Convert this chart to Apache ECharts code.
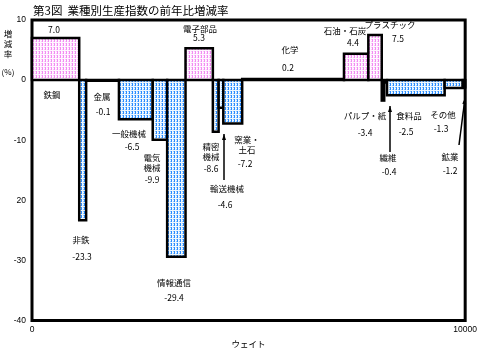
<!DOCTYPE html>
<html><head><meta charset="utf-8">
<script src="https://cdn.jsdelivr.net/npm/echarts@6/dist/echarts.min.js"></script>
<style>html,body{margin:0;padding:0;background:#fff}#c{width:480px;height:353px}</style>
</head><body><div id="c"></div>
<script>
const categories = ['鉄鋼','非鉄','金属','一般機械','電気機械','情報通信','電子部品','精密機械','輸送機械','窯業・土石','化学','石油・石炭','プラスチック','パルプ・紙','繊維','食料品','その他','鉱業'];
const nameLabels = ['鉄鋼','非鉄','金属','一般機械','電気\n機械','情報通信','電子部品','精密\n機械','輸送機械','窯業・\n土石','化学','石油・石炭','プラスチック','パルプ・紙','繊維','食料品','その他','鉱業'];
const weights = [1090,160,757,780,333,424,631,133,108,436,2350,562,310,57,64,1331,418,56];
const growth = [7.0,-23.3,-0.1,-6.5,-9.9,-29.4,5.3,-8.6,-4.6,-7.2,0.2,4.4,7.5,-3.4,-0.4,-2.5,-1.3,-1.2];
const yTickLabels = ['-40','-30','20','-10','0','10'];
const xTickLabels = ['0','10000'];

// label positions (pixel centres) – layout only
const namePos = [[52,95],[81,240],[102,97],[129,134],[152,163],[174,283],[200,29],[211,152],[227,189],[247,145],[290,50],[345,31],[390,25],[365,116],[388,158],[409,116],[443,115],[450,157]];
const valPos  = [[54,30],[82,257],[103,112],[132,147],[152,180],[174,298],[199,38],[211,169],[225,205],[245,164],[288,68],[353,43],[398,39],[365,133],[389,172],[406,132],[441,129],[450,171]];

function makePattern(bg, dark, mid){
  const c=document.createElement('canvas'); c.width=3; c.height=4;
  const g=c.getContext('2d');
  g.fillStyle=bg; g.fillRect(0,0,3,4);
  g.fillStyle=dark; g.fillRect(0,0,1,2); g.fillRect(0,3,1,1);
  g.fillStyle=mid; g.fillRect(2,1,1,1); g.fillRect(2,3,1,1);
  return {image:c, repeat:'repeat'};
}
const pinkPat = makePattern('#fff6ff','#f28cf2','#fac8fa');
const bluePat = makePattern('#eef7ff','#2a8cff','#8cc6ff');

const barData = [];
let acc = 0;
for (let i=0;i<weights.length;i++){ barData.push([acc, acc+weights[i], growth[i]]); acc += weights[i]; }

const chart = echarts.init(document.getElementById('c'), null, {renderer:'canvas'});
const graphics = [];
const font = '"Noto Sans CJK JP", sans-serif';
for (let i=0;i<categories.length;i++){
  graphics.push({type:'text', x:namePos[i][0], y:namePos[i][1], style:{text:nameLabels[i], fill:'#000', font:'8.5px '+font, align:'center', verticalAlign:'middle', lineHeight:10}});
  graphics.push({type:'text', x:valPos[i][0], y:valPos[i][1], style:{text:growth[i].toFixed(1), fill:'#000', font:'8.5px '+font, align:'center', verticalAlign:'middle'}});
}
// leader arrows
const arrows = [[224,180,224,134],[390,152,390,106],[459,145,465,98]];
arrows.forEach(a=>{
  graphics.push({type:'line', shape:{x1:a[0],y1:a[1],x2:a[2],y2:a[3]}, style:{stroke:'#000', lineWidth:1.5}});
  const dx=a[2]-a[0], dy=a[3]-a[1], L=Math.hypot(dx,dy), ux=dx/L, uy=dy/L;
  graphics.push({type:'polygon', shape:{points:[[a[2],a[3]],[a[2]-ux*6-uy*2,a[3]-uy*6+ux*2],[a[2]-ux*6+uy*2,a[3]-uy*6-ux*2]]}, style:{fill:'#000'}});
});
// y axis title
graphics.push({type:'text', x:8, y:44, style:{text:'増\n減\n率', fill:'#000', font:'8.5px '+font, align:'center', verticalAlign:'middle', lineHeight:10}});
graphics.push({type:'text', x:8, y:72, style:{text:'(%)', fill:'#000', font:'8px '+font, align:'center', verticalAlign:'middle'}});

chart.setOption({
  animation:false,
  title:{text:'第3図  業種別生産指数の前年比増減率', left:28, top:0, textStyle:{fontSize:11.5, fontWeight:'normal', color:'#000', fontFamily:'Noto Sans CJK JP'}},
  grid:{left:32, right:12, top:20, bottom:22, show:true, borderColor:'#000', borderWidth:3},
  xAxis:{type:'value', min:0, max:10000, interval:10000,
    name:'ウェイト', nameLocation:'middle', nameGap:13, nameTextStyle:{fontSize:8.5, color:'#000', fontFamily:'Noto Sans CJK JP'},
    axisLine:{show:false}, axisTick:{show:false}, splitLine:{show:false},
    axisLabel:{fontSize:8.5, color:'#000', margin:5, formatter:v=>xTickLabels[v/10000]}},
  yAxis:{type:'value', min:-40, max:10, interval:10,
    axisLine:{show:false}, axisTick:{show:false}, splitLine:{show:false},
    axisLabel:{fontSize:8.5, color:'#000', margin:6, formatter:v=>yTickLabels[(v+40)/10]}},
  series:[{
    type:'custom',
    data:barData,
    encode:{x:[0,1], y:2},
    renderItem:function(params, api){
      const x0=api.value(0), x1=api.value(1), v=api.value(2);
      const p0=api.coord([x0,0]), p1=api.coord([x1,v]);
      return {type:'rect', shape:{x:p0[0], y:Math.min(p0[1],p1[1]), width:p1[0]-p0[0], height:Math.max(Math.abs(p1[1]-p0[1]),0.5)},
        style:{fill: v>=0?pinkPat:bluePat, stroke:'#000', lineWidth:2.5}};
    }
  }],
  graphic:graphics
});
</script></body></html>
